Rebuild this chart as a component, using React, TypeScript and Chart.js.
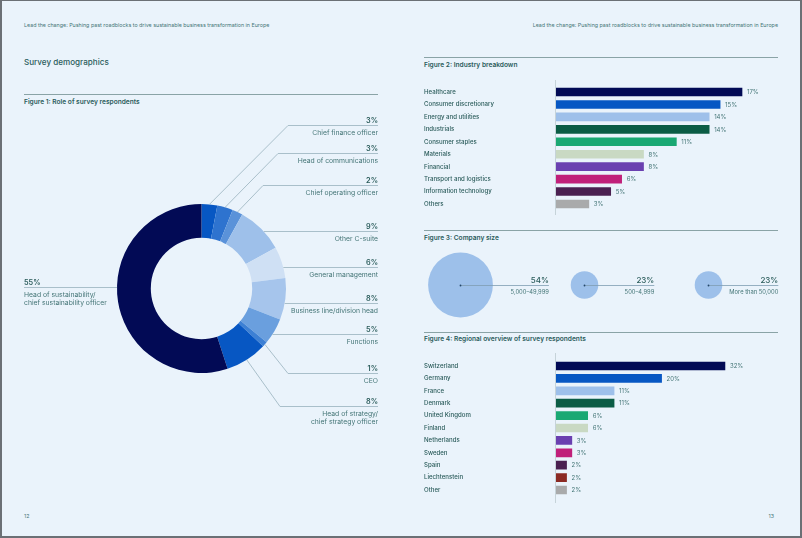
import React, { useEffect, useRef } from "react";
import { Chart, registerables } from "chart.js";

Chart.register(...registerables);

const FONT = "Inter, 'Noto Sans', 'DejaVu Sans', sans-serif";
const TEAL = "#2b5c5b";
const TEAL_LIGHT = "#457677";
const RULE = "#8aa3a6";
const LEADER = "#a9bfca";
const AXIS = "#c6d3d9";
const BG = "#eaf3fb";

// ---------- Figure 1: Role of survey respondents ----------
const roleLabels = [
  "Chief finance officer",
  "Head of communications",
  "Chief operating officer",
  "Other C-suite",
  "General management",
  "Business line/division head",
  "Functions",
  "CEO",
  "Head of strategy/\nchief strategy officer",
  "Head of sustainability/\nchief sustainability officer",
];
const roleValues = [3, 3, 2, 9, 6, 8, 5, 1, 8, 55];
const roleColors = [
  "#0757c3",
  "#2e73cf",
  "#5a92d9",
  "#9ec0ea",
  "#cfe0f4",
  "#a6c5ec",
  "#6a9fde",
  "#3d80d4",
  "#0757c3",
  "#020a55",
];
// label layout (page coordinates): which side, y of the leader rule, elbow x
const roleLabelLayout = [
  { side: "right", lineY: 125, elbowX: 288 },
  { side: "right", lineY: 153, elbowX: 278 },
  { side: "right", lineY: 184.5, elbowX: 263 },
  { side: "right", lineY: 231, elbowX: null },
  { side: "right", lineY: 267, elbowX: null },
  { side: "right", lineY: 303, elbowX: null },
  { side: "right", lineY: 334, elbowX: null },
  { side: "right", lineY: 373, elbowX: 288 },
  { side: "right", lineY: 406, elbowX: 280 },
  { side: "left", lineY: 287, elbowX: null },
];

// ---------- Figure 2: Industry breakdown ----------
const industryLabels = [
  "Healthcare",
  "Consumer discretionary",
  "Energy and utilities",
  "Industrials",
  "Consumer staples",
  "Materials",
  "Financial",
  "Transport and logistics",
  "Information technology",
  "Others",
];
const industryValues = [17, 15, 14, 14, 11, 8, 8, 6, 5, 3];
const industryColors = [
  "#020a55",
  "#0757c3",
  "#9ec0ea",
  "#0b5c45",
  "#1aa873",
  "#c9d9c3",
  "#6a40b0",
  "#c0207a",
  "#4a2050",
  "#a9aaab",
];

// ---------- Figure 3: Company size ----------
const sizeLabels = ["5,000–49,999", "500–4,999", "More than 50,000"];
const sizeValues = [54, 23, 23];

// ---------- Figure 4: Regional overview ----------
const regionLabels = [
  "Switzerland",
  "Germany",
  "France",
  "Denmark",
  "United Kingdom",
  "Finland",
  "Netherlands",
  "Sweden",
  "Spain",
  "Liechtenstein",
  "Other",
];
const regionValues = [32, 20, 11, 11, 6, 6, 3, 3, 2, 2, 2];
const regionColors = [
  "#020a55",
  "#0757c3",
  "#9ec0ea",
  "#0b5c45",
  "#1aa873",
  "#c9d9c3",
  "#6a40b0",
  "#c0207a",
  "#4a2050",
  "#8b2a24",
  "#a9aaab",
];

const HEADER =
  "Lead the change: Pushing past roadblocks to drive sustainable business transformation in Europe";

// ---------- helpers ----------
type TxtProps = {
  x: number;
  y: number; // baseline
  size: number;
  weight?: number;
  color?: string;
  align?: "left" | "right";
  children: React.ReactNode;
};
function Txt({ x, y, size, weight = 400, color = TEAL, align = "left", children }: TxtProps) {
  const style: React.CSSProperties = {
    position: "absolute",
    top: y - 0.863 * size,
    fontFamily: FONT,
    fontSize: size,
    fontWeight: weight,
    lineHeight: `${size}px`,
    color,
    whiteSpace: "nowrap",
  };
  if (align === "left") style.left = x;
  else style.right = 802 - x;
  return <div style={style}>{children}</div>;
}

function Rule({ x1, x2, y }: { x1: number; x2: number; y: number }) {
  return (
    <div
      style={{
        position: "absolute",
        left: x1,
        top: y,
        width: x2 - x1,
        height: 1,
        background: RULE,
      }}
    />
  );
}

// ---------- Figure 1 ----------
const DONUT_LEFT = 0;
const DONUT_TOP = 105;
const DONUT_W = 400;
const DONUT_H = 335;
const LABEL_RIGHT_X = 378;
const LABEL_LEFT_X = 24;

function RoleDonut() {
  const ref = useRef<HTMLCanvasElement>(null);
  useEffect(() => {
    const plugin = {
      id: "roleLabels",
      afterDatasetsDraw(chart: any) {
        const ctx: CanvasRenderingContext2D = chart.ctx;
        const meta = chart.getDatasetMeta(0);
        ctx.save();
        meta.data.forEach((arc: any, i: number) => {
          const { x, y, startAngle, endAngle, outerRadius } = arc.getProps(
            ["x", "y", "startAngle", "endAngle", "outerRadius"],
            true
          );
          const lay = roleLabelLayout[i];
          const ly = Math.round(lay.lineY - DONUT_TOP) + 0.5;
          const dy = ly - y;
          const half = Math.sqrt(Math.max(outerRadius * outerRadius - dy * dy, 0));
          ctx.strokeStyle = LEADER;
          ctx.lineWidth = 1;
          ctx.beginPath();
          if (lay.side === "left") {
            ctx.moveTo(x - half, ly);
            ctx.lineTo(LABEL_LEFT_X, ly);
          } else if (lay.elbowX == null) {
            ctx.moveTo(x + half, ly);
            ctx.lineTo(LABEL_RIGHT_X, ly);
          } else {
            const mid = (startAngle + endAngle) / 2;
            ctx.moveTo(x + Math.cos(mid) * outerRadius, y + Math.sin(mid) * outerRadius);
            ctx.lineTo(lay.elbowX as number, ly);
            ctx.lineTo(LABEL_RIGHT_X, ly);
          }
          ctx.stroke();

          const tx = lay.side === "left" ? LABEL_LEFT_X : LABEL_RIGHT_X;
          ctx.textAlign = lay.side === "left" ? "left" : "right";
          ctx.textBaseline = "alphabetic";
          ctx.fillStyle = TEAL;
          ctx.font = `600 7.3px ${FONT}`;
          ctx.fillText(`${roleValues[i]}%`, tx, ly - 3);
          ctx.fillStyle = TEAL_LIGHT;
          ctx.font = `400 6.8px ${FONT}`;
          roleLabels[i].split("\n").forEach((line, k) => {
            ctx.fillText(line, tx, ly + 9.3 + k * 8.6);
          });
        });
        ctx.restore();
      },
    };
    const chart = new Chart(ref.current as HTMLCanvasElement, {
      type: "doughnut",
      data: {
        labels: roleLabels,
        datasets: [{ data: roleValues, backgroundColor: roleColors, borderWidth: 0 }],
      },
      options: {
        responsive: false,
        animation: false,
        events: [],
        cutout: "60%",
        layout: { autoPadding: false, padding: { left: 117, right: 114, top: 99, bottom: 67 } },
        plugins: { legend: { display: false }, tooltip: { enabled: false } },
      } as any,
      plugins: [plugin],
    });
    return () => chart.destroy();
  }, []);
  return (
    <canvas
      ref={ref}
      width={DONUT_W}
      height={DONUT_H}
      style={{ position: "absolute", left: DONUT_LEFT, top: DONUT_TOP, width: DONUT_W, height: DONUT_H }}
    />
  );
}

// ---------- Figures 2 & 4 ----------
type HBarProps = {
  labels: string[];
  values: number[];
  colors: string[];
  left: number;
  top: number;
  width: number;
  height: number;
  max: number;
  padTop: number;
  padBottom: number;
};
function HBar(p: HBarProps) {
  const ref = useRef<HTMLCanvasElement>(null);
  useEffect(() => {
    const plugin = {
      id: "axisValues",
      beforeDatasetsDraw(chart: any) {
        const { ctx, chartArea } = chart;
        ctx.save();
        ctx.strokeStyle = AXIS;
        ctx.lineWidth = 1;
        const ax = Math.round(chartArea.left) - 0.5;
        ctx.beginPath();
        ctx.moveTo(ax, 0);
        ctx.lineTo(ax, chart.height);
        ctx.stroke();
        ctx.restore();
      },
      afterDatasetsDraw(chart: any) {
        const ctx: CanvasRenderingContext2D = chart.ctx;
        const meta = chart.getDatasetMeta(0);
        ctx.save();
        ctx.font = `400 6px ${FONT}`;
        ctx.fillStyle = TEAL_LIGHT;
        ctx.textAlign = "left";
        ctx.textBaseline = "middle";
        meta.data.forEach((bar: any, i: number) => {
          ctx.fillText(`${p.values[i]}%`, bar.x + 5, bar.y + 0.5);
        });
        ctx.restore();
      },
    };
    const chart = new Chart(ref.current as HTMLCanvasElement, {
      type: "bar",
      data: {
        labels: p.labels,
        datasets: [{ data: p.values, backgroundColor: p.colors, borderWidth: 0, barThickness: 8 }],
      },
      options: {
        indexAxis: "y",
        responsive: false,
        animation: false,
        events: [],
        layout: { padding: { top: p.padTop, bottom: p.padBottom, left: 0, right: 0 } },
        plugins: { legend: { display: false }, tooltip: { enabled: false } },
        scales: {
          x: { display: false, min: 0, max: p.max },
          y: {
            grid: { display: false },
            border: { display: false },
            ticks: {
              crossAlign: "far",
              padding: 0,
              autoSkip: false,
              color: TEAL,
              font: { family: FONT, size: 6.1, weight: "500" },
            },
            afterFit: (s: any) => {
              s.width = 132;
            },
          },
        },
      } as any,
      plugins: [plugin],
    });
    return () => chart.destroy();
  }, []);
  return (
    <canvas
      ref={ref}
      width={p.width}
      height={p.height}
      style={{ position: "absolute", left: p.left, top: p.top, width: p.width, height: p.height }}
    />
  );
}

// ---------- Figure 3 ----------
function CompanySize() {
  const ref = useRef<HTMLCanvasElement>(null);
  useEffect(() => {
    const plugin = {
      id: "sizeLabels",
      afterDatasetsDraw(chart: any) {
        const ctx: CanvasRenderingContext2D = chart.ctx;
        const meta = chart.getDatasetMeta(0);
        ctx.save();
        meta.data.forEach((pt: any, i: number) => {
          const x = pt.x;
          const y = Math.round(pt.y) + 0.5;
          const r = pt.options.radius;
          const right = x + r + 56;
          ctx.strokeStyle = "#7f9db3";
          ctx.lineWidth = 0.8;
          ctx.beginPath();
          ctx.moveTo(x, y);
          ctx.lineTo(right, y);
          ctx.stroke();
          ctx.fillStyle = "#23466a";
          ctx.beginPath();
          ctx.arc(x, y, 0.9, 0, Math.PI * 2);
          ctx.fill();
          ctx.textAlign = "right";
          ctx.textBaseline = "alphabetic";
          ctx.fillStyle = TEAL;
          ctx.font = `500 8px ${FONT}`;
          ctx.fillText(`${sizeValues[i]}%`, right, y - 2.8);
          ctx.fillStyle = TEAL_LIGHT;
          ctx.font = `400 5.8px ${FONT}`;
          ctx.fillText(sizeLabels[i], right, y + 8.3);
        });
        ctx.restore();
      },
    };
    const chart = new Chart(ref.current as HTMLCanvasElement, {
      type: "bubble",
      data: {
        datasets: [
          {
            data: sizeValues.map((v, i) => ({ x: i, y: 0, r: v * 0.6 })),
            backgroundColor: "#9dc0ea",
            borderWidth: 0,
            clip: false,
          },
        ],
      },
      options: {
        responsive: false,
        animation: false,
        events: [],
        layout: { autoPadding: false, padding: 0 },
        plugins: { legend: { display: false }, tooltip: { enabled: false } },
        scales: {
          x: { display: false, min: -0.2944, max: 2.6089 },
          y: { display: false, min: -1, max: 1 },
        },
      } as any,
      plugins: [plugin],
    });
    return () => chart.destroy();
  }, []);
  return (
    <canvas
      ref={ref}
      width={360}
      height={80}
      style={{ position: "absolute", left: 424, top: 245, width: 360, height: 80 }}
    />
  );
}

export default function App() {
  return (
    <div
      style={{
        position: "absolute",
        left: 0,
        top: 0,
        width: 802,
        height: 538,
        background: BG,
        overflow: "hidden",
        fontFamily: FONT,
      }}
    >
      {/* left page */}
      <Txt x={24} y={28} size={5.33} color={TEAL_LIGHT}>
        {HEADER}
      </Txt>
      <Txt x={24} y={65} size={8.1} weight={500}>
        Survey demographics
      </Txt>
      <Rule x1={24} x2={378} y={94} />
      <Txt x={24} y={105} size={6.6} weight={600}>
        Figure 1: Role of survey respondents
      </Txt>
      <RoleDonut />
      <Txt x={24} y={518.5} size={5.3} color={TEAL_LIGHT}>
        12
      </Txt>

      {/* right page */}
      <Txt x={778} y={28} size={5.33} color={TEAL_LIGHT} align="right">
        {HEADER}
      </Txt>
      <Rule x1={424} x2={778} y={57} />
      <Txt x={424} y={68} size={6.6} weight={600}>
        Figure 2: Industry breakdown
      </Txt>
      <HBar
        labels={industryLabels}
        values={industryValues}
        colors={industryColors}
        left={424}
        top={80}
        width={354}
        height={135}
        max={20.29}
        padTop={5.8}
        padBottom={4.8}
      />
      <Rule x1={424} x2={778} y={230} />
      <Txt x={424} y={241} size={6.6} weight={600}>
        Figure 3: Company size
      </Txt>
      <CompanySize />
      <Rule x1={424} x2={778} y={332} />
      <Txt x={424} y={342} size={6.6} weight={600}>
        Figure 4: Regional overview of survey respondents
      </Txt>
      <HBar
        labels={regionLabels}
        values={regionValues}
        colors={regionColors}
        left={424}
        top={353}
        width={354}
        height={150}
        max={42.05}
        padTop={6.8}
        padBottom={6.8}
      />
      <Txt x={774} y={518.5} size={5.3} color={TEAL_LIGHT} align="right">
        13
      </Txt>

      {/* page frame */}
      <div
        style={{
          position: "absolute",
          left: 0,
          top: 0,
          width: 802,
          height: 538,
          boxSizing: "border-box",
          borderTop: "1px solid #6b7075",
          borderLeft: "2px solid #6b7075",
          borderRight: "2px solid #6b7075",
          borderBottom: "2px solid #6b7075",
          pointerEvents: "none",
        }}
      />
    </div>
  );
}
